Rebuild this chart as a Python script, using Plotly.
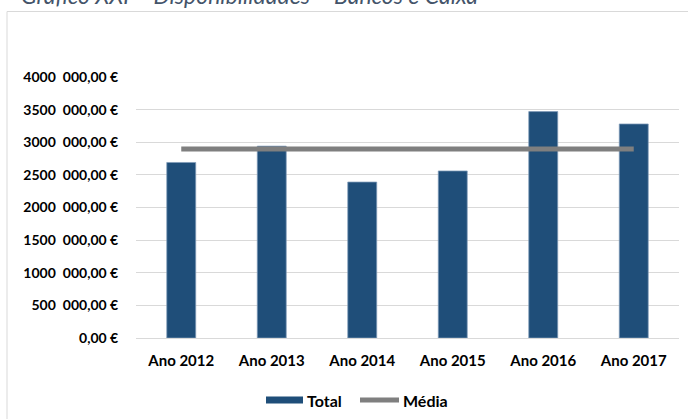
import plotly.graph_objects as go

# data
anos = ["Ano 2012", "Ano 2013", "Ano 2014", "Ano 2015", "Ano 2016", "Ano 2017"]
total = [2690000, 2940000, 2390000, 2560000, 3470000, 3280000]
media = [2895000, 2895000, 2895000, 2895000, 2895000, 2895000]
y_ticks = [0, 500000, 1000000, 1500000, 2000000, 2500000, 3000000, 3500000, 4000000]

titulo = "Gráfico XXI – Disponibilidades – Bancos e Caixa"


def eur(v):
    # excel style "4000 000,00 €"
    if v == 0:
        return "0,00 €"
    return "{}\u2002{:03d},00 €".format(v // 1000, v % 1000)


W, H = 688, 419
L, R, T, B = 136, 679, 77, 338  # plot area in pixels


def px(x):
    return (x - L) / (R - L)


def py(y):
    return (B - y) / (B - T)


FONT = "Lato"
BLUE = "#1F4E79"
GREY = "#7F7F7F"
FRAME = "#D9D9D9"

fig = go.Figure()
fig.add_trace(go.Bar(
    x=anos, y=total, name="Total",
    marker=dict(color=BLUE, line=dict(color="#7f9bb8", width=0.75)),
    width=0.32, hoverinfo="skip",
))
fig.add_trace(go.Scatter(
    x=anos, y=media, name="Média", mode="lines",
    line=dict(color=GREY, width=5), hoverinfo="skip",
))

fig.update_layout(
    template="none",
    width=W, height=H,
    margin=dict(l=L, r=W - R, t=T, b=H - B, pad=0),
    paper_bgcolor="white", plot_bgcolor="white",
    showlegend=False, dragmode=False, hovermode=False,
    font=dict(family=FONT, size=14, color="#000000"),
    xaxis=dict(
        showgrid=False, showline=False, zeroline=False, mirror=False,
        ticks="outside", ticklen=9, tickcolor="white",
        tickfont=dict(family=FONT, size=15, color="#000000", weight="bold"),
    ),
    yaxis=dict(
        range=[0, 4000000],
        tickvals=y_ticks, ticktext=[eur(v) for v in y_ticks],
        showgrid=True, gridcolor=FRAME, gridwidth=1,
        zeroline=True, zerolinecolor=FRAME, zerolinewidth=1,
        showline=False, mirror=False,
        ticks="outside", ticklen=14, tickcolor="white",
        tickfont=dict(family=FONT, size=14, color="#000000", weight="bold"),
    ),
)

# outer frame of the chart area (top and left edges are the only ones visible)
fig.add_shape(type="line", xref="paper", yref="paper",
              x0=px(7), x1=px(688), y0=py(11.5), y1=py(11.5),
              line=dict(color=FRAME, width=1), layer="below")
fig.add_shape(type="line", xref="paper", yref="paper",
              x0=px(7), x1=px(7), y0=py(11.5), y1=py(419),
              line=dict(color=FRAME, width=1), layer="below")
# keep the strip right of the plot area blank
fig.add_shape(type="rect", xref="paper", yref="paper",
              x0=px(679.6), x1=px(692), y0=py(425), y1=py(12.5),
              fillcolor="white", line=dict(width=0), layer="above")

# title, partly cut off at the top as in the original
fig.add_annotation(text=titulo, xref="paper", yref="paper",
                   x=px(19), y=py(-5), xanchor="left", yanchor="middle",
                   showarrow=False,
                   font=dict(family=FONT, size=23, color="#44546A", style="italic"))

# legend drawn by hand (wide swatches like the original)
fig.add_shape(type="rect", xref="paper", yref="paper",
              x0=px(266), x1=px(303), y0=py(403.5), y1=py(396.5),
              fillcolor=BLUE, line=dict(width=0))
fig.add_shape(type="line", xref="paper", yref="paper",
              x0=px(360), x1=px(399), y0=py(400), y1=py(400),
              line=dict(color=GREY, width=5))
fig.add_annotation(text="<b>Total</b>", xref="paper", yref="paper",
                   x=px(305), y=py(400), xanchor="left", yanchor="middle",
                   showarrow=False, font=dict(family=FONT, size=16, color="#000000"))
fig.add_annotation(text="<b>Média</b>", xref="paper", yref="paper",
                   x=px(401), y=py(400), xanchor="left", yanchor="middle",
                   showarrow=False, font=dict(family=FONT, size=16, color="#000000"))

# page body has an 8px default margin; drop it so the figure sits at 0,0
fig.write_html("out.html", config={"displayModeBar": False, "staticPlot": True},
               post_script="document.body.style.margin='0';"
                           "document.body.style.overflow='hidden';"
                           "document.documentElement.style.overflow='hidden';")
